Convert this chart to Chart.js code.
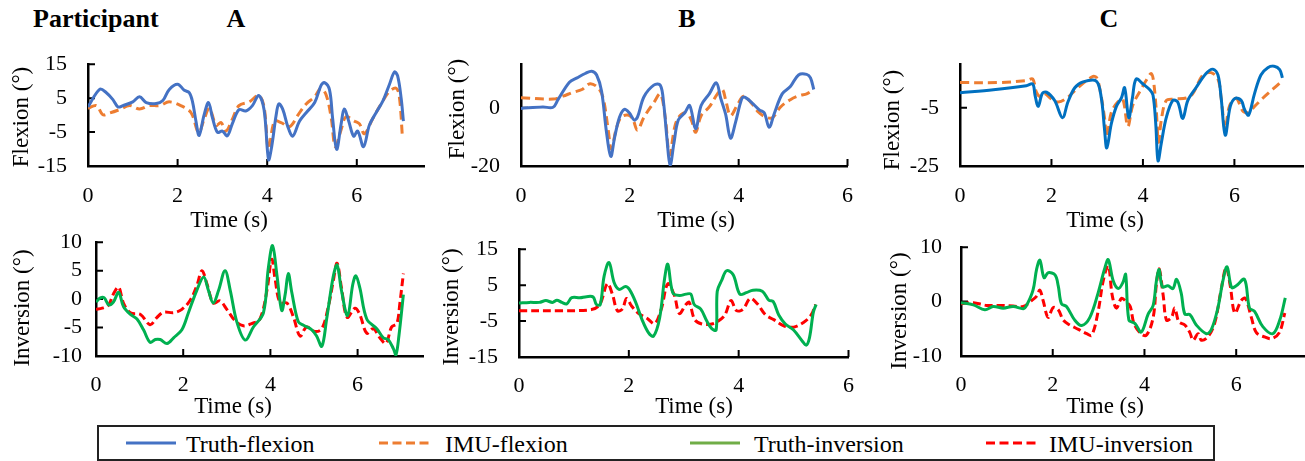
<!DOCTYPE html>
<html><head><meta charset="utf-8">
<script src="https://cdn.jsdelivr.net/npm/chart.js@4.4.1/dist/chart.umd.min.js"></script>
<style>
html,body{margin:0;padding:0;background:#fff;}
body{width:1305px;height:461px;position:relative;overflow:hidden;font-family:'Liberation Serif','Times New Roman',serif;color:#000;}
canvas{position:absolute;}
.t{position:absolute;white-space:nowrap;line-height:1;}
.c{transform:translate(-50%,-50%);}
.v{transform:translate(-50%,-50%) rotate(-90deg);}
.h{font-weight:bold;font-size:26px;transform:translateY(-50%);}
.hc{font-weight:bold;font-size:26px;transform:translate(-50%,-50%);}
.ax{font-size:23px;}
#legend{position:absolute;left:97px;top:425px;width:1118px;height:36px;border:2px solid #222;box-sizing:border-box;}
.lg{position:absolute;font-size:24px;line-height:1;transform:translateY(-50%);white-space:nowrap;}
svg{position:absolute;}
</style></head>
<body>
<div class="t h" style="left:33px;top:19px;">Participant</div>
<div class="t hc" style="left:236px;top:19px;">A</div>
<div class="t hc" style="left:687px;top:19px;">B</div>
<div class="t hc" style="left:1109px;top:19px;">C</div>

<div id="legend"></div>
<svg style="left:126px;top:440px" width="50" height="6"><line x1="0" y1="3" x2="50" y2="3" stroke="#4472C4" stroke-width="3"/></svg>
<div class="lg" style="left:186px;top:444px;">Truth-flexion</div>
<svg style="left:379px;top:440px" width="50" height="6"><line x1="0" y1="3" x2="50" y2="3" stroke="#ED7D31" stroke-width="3" stroke-dasharray="9 4.5"/></svg>
<div class="lg" style="left:445px;top:444px;">IMU-flexion</div>
<svg style="left:690px;top:440px" width="50" height="6"><line x1="0" y1="3" x2="50" y2="3" stroke="#70AD47" stroke-width="3"/></svg>
<div class="lg" style="left:754px;top:444px;">Truth-inversion</div>
<svg style="left:986px;top:440px" width="50" height="6"><line x1="0" y1="3" x2="50" y2="3" stroke="#FF0000" stroke-width="3" stroke-dasharray="9 4.5"/></svg>
<div class="lg" style="left:1049px;top:444px;">IMU-inversion</div>

<script>
// ---------- DATA (time s, angle °) ----------
const xTicks = [0, 2, 4, 6];
const flexTicksA = [-15, -5, 5, 15];
const flexTicksB = [-20, 0];
const flexTicksC = [-25, -5];
const invTicksA = [-10, -5, 0, 5, 10];
const invTicksB = [-15, -5, 5, 15];
const invTicksC = [-10, 0, 10];

const truthFlexA = [[0,2.4],[0.26,7.6],[0.41,6.6],[0.56,4.5],[0.67,2.4],[0.78,2.8],[1.0,3.9],[1.15,5.4],[1.3,3.7],[1.52,3.4],[1.67,4.3],[1.81,7.5],[2.0,9.1],[2.15,7.3],[2.26,6.6],[2.33,4.1],[2.41,-1.8],[2.48,-6],[2.59,0],[2.69,3.7],[2.78,-0.9],[2.89,-5.1],[3.0,-4.7],[3.11,-6.1],[3.22,-2.6],[3.37,1.6],[3.52,1.2],[3.67,2.8],[3.81,5.8],[3.93,1.6],[4.03,-13.1],[4.1,-9.3],[4.2,0],[4.26,3.3],[4.35,1.6],[4.46,-3.4],[4.57,-6.2],[4.72,-1.8],[4.87,0.7],[5.06,3.7],[5.2,8.7],[5.28,9.6],[5.39,7.5],[5.46,-0.9],[5.55,-10.1],[5.65,-2.6],[5.72,1.8],[5.82,-1.8],[5.93,-6.2],[6.02,-4.7],[6.15,-9.3],[6.28,-3],[6.43,0.7],[6.58,4.1],[6.73,9.1],[6.84,12.7],[6.91,11.6],[6.99,5],[7.04,-1.8]];
const imuFlexA = [[0,2],[0.19,2.8],[0.33,0.1],[0.48,0.6],[0.7,1.6],[0.93,2.8],[1.15,1.8],[1.37,2.8],[1.6,2.8],[1.81,3.9],[2.07,2.8],[2.3,0.7],[2.47,-5.1],[2.6,-0.9],[2.71,2],[2.86,-3],[2.97,-2.2],[3.08,-4.7],[3.22,-1.3],[3.37,2.8],[3.6,3.9],[3.81,5.8],[3.93,2.4],[4.03,-10.1],[4.16,-1.8],[4.31,-2.2],[4.5,-3.4],[4.69,0.1],[4.87,3.3],[5.06,5.4],[5.2,7.9],[5.32,5.8],[5.43,-0.9],[5.52,-9.3],[5.65,-4.3],[5.76,-0.5],[5.95,-1.8],[6.06,-2.6],[6.17,-5.5],[6.36,-0.9],[6.58,4.1],[6.73,7],[6.88,7.9],[6.95,5.4],[7.02,-6.8]];

const truthFlexB = [[0,-0.2],[0.4,0.3],[0.59,0.2],[0.68,2.8],[0.89,8.8],[1.03,10.3],[1.18,11.8],[1.3,12.6],[1.39,11.3],[1.48,5.8],[1.57,-8.2],[1.65,-16.7],[1.72,-10.2],[1.81,-3.2],[1.9,-0.5],[1.99,-1.7],[2.08,-4.2],[2.14,-3.2],[2.26,3.8],[2.44,7.8],[2.56,7.8],[2.62,1.8],[2.68,-10.2],[2.74,-19.7],[2.81,-12.2],[2.89,-4.2],[3.01,-1.7],[3.1,0.8],[3.21,-7.2],[3.31,0.8],[3.46,4.8],[3.59,8.6],[3.67,3.3],[3.76,-2.2],[3.85,-10.4],[3.94,-5.2],[4.06,3.3],[4.12,3.6],[4.27,1.3],[4.38,-0.7],[4.47,-1.7],[4.56,-6.7],[4.65,-2.2],[4.8,4.8],[4.95,7.3],[5.1,11.3],[5.25,11.5],[5.32,10.3],[5.38,6.3]];
const imuFlexB = [[0,3.5],[0.59,3],[0.77,4],[0.95,5.3],[1.12,6.3],[1.27,8.3],[1.42,6.8],[1.51,3.3],[1.6,-7.2],[1.66,-14.2],[1.75,-7.2],[1.84,-3.2],[1.96,-2.5],[2.05,-3.7],[2.14,-7.7],[2.26,-3.2],[2.44,1.8],[2.56,4.8],[2.65,-3.2],[2.73,-16.2],[2.83,-6.2],[2.92,-2.7],[3.04,-1.7],[3.13,-4.2],[3.21,-8.4],[3.31,-2.7],[3.46,0.3],[3.61,4.8],[3.7,6.3],[3.76,2.8],[3.85,-2.7],[3.97,0.8],[4.09,4],[4.24,1.5],[4.35,-1.2],[4.5,-3.2],[4.62,-3.4],[4.77,0.3],[4.95,2.8],[5.13,4.3],[5.25,4.8],[5.38,6.3]];

const truthFlexC = [[0,0.2],[0.73,1.2],[1.45,2.6],[1.59,3.2],[1.64,-0.6],[1.71,-4.5],[1.8,-0.1],[1.89,0.4],[2.07,-2.5],[2.24,-8.4],[2.36,-3],[2.51,1.9],[2.69,3.9],[2.98,4.2],[3.09,-1.6],[3.16,-12.4],[3.21,-18.8],[3.31,-10.4],[3.42,-4.5],[3.53,-1.6],[3.6,1.9],[3.69,-8.4],[3.77,-1.6],[3.85,4.9],[4.0,3.2],[4.15,1.2],[4.22,-0.6],[4.28,-10.4],[4.33,-23.2],[4.4,-17.3],[4.51,-8.4],[4.65,-2.5],[4.76,-3],[4.87,-8.7],[4.98,-2.5],[5.16,1.9],[5.38,6.8],[5.53,8.3],[5.64,6.3],[5.71,-1.6],[5.8,-14.4],[5.91,-4.5],[6.02,-1.7],[6.15,-2.5],[6.22,-5.5],[6.31,-7.5],[6.44,-0.1],[6.58,6.3],[6.73,8.8],[6.87,9.3],[6.99,8.1],[7.05,5.3]];
const imuFlexC = [[0,3.7],[0.87,3.7],[1.45,4.4],[1.59,4.9],[1.67,0.4],[1.75,-1.1],[1.85,-0.1],[2.0,-2],[2.15,-3],[2.33,-1.7],[2.51,0.9],[2.69,3.4],[2.91,5.8],[2.99,5.3],[3.07,0.4],[3.16,-8.4],[3.21,-14.9],[3.31,-6.5],[3.45,-3],[3.56,-2],[3.67,-11.4],[3.78,-4],[3.96,1.4],[4.07,4.4],[4.18,6.8],[4.23,4.4],[4.29,-5.5],[4.34,-16.8],[4.4,-9.4],[4.51,-2.5],[4.69,-2],[4.95,-1.6],[5.09,-0.1],[5.31,6.3],[5.49,7.1],[5.64,4.9],[5.71,-1.6],[5.8,-12.4],[5.89,-4.5],[6.04,-1.7],[6.18,-6],[6.29,-6.7],[6.44,-4.5],[6.62,-1.7],[6.84,1.4],[7.02,3.9]];

const truthInvA = [[0,-0.5],[0.1,0.2],[0.19,0.2],[0.29,-1],[0.4,-0.5],[0.52,1.2],[0.63,-1.3],[0.79,-2.7],[0.94,-3.5],[1.09,-5.4],[1.24,-7.6],[1.36,-7.1],[1.47,-7.1],[1.63,-7.8],[1.78,-6.8],[1.97,-5.4],[2.12,-2.4],[2.31,1.5],[2.47,3.9],[2.58,1.5],[2.69,-0.7],[2.81,1.5],[2.96,5],[3.08,1.5],[3.23,-4],[3.42,-7.2],[3.61,-4.9],[3.84,-2.4],[3.95,5.3],[4.05,9.4],[4.15,4.2],[4.26,-2],[4.34,0.9],[4.41,4.5],[4.49,1.2],[4.64,-4],[4.76,-4.6],[4.95,-5.4],[5.06,-6.5],[5.18,-8.3],[5.29,-3.5],[5.44,3.9],[5.53,6],[5.63,1.5],[5.77,-2.9],[5.89,2.6],[5.96,4.1],[6.05,2],[6.21,-3.5],[6.44,-5.2],[6.59,-6.8],[6.7,-7.1],[6.82,-8.7],[6.88,-9.8],[6.95,-6.3],[7.05,0.8]];
const imuInvA = [[0,-1.8],[0.14,-1.6],[0.29,-1],[0.4,0.9],[0.52,2.1],[0.63,-0.7],[0.79,-2.4],[1.02,-2.7],[1.24,-4.5],[1.4,-3.2],[1.55,-2.3],[1.78,-2.4],[1.97,-1.8],[2.16,-0.2],[2.31,2.3],[2.43,5],[2.54,2.8],[2.69,-0.7],[2.84,-0.3],[3.0,-1.8],[3.19,-3.8],[3.38,-4.7],[3.57,-4.3],[3.76,-3.5],[3.92,1.5],[4.03,7],[4.11,3.4],[4.22,-0.6],[4.38,-0.7],[4.53,-3.2],[4.68,-6.5],[4.83,-4.9],[5.02,-5.7],[5.18,-5.2],[5.33,-1.3],[5.44,3.1],[5.53,6.3],[5.63,2],[5.76,-3.2],[5.94,-1.6],[6.05,-2.7],[6.21,-6],[6.36,-5.2],[6.51,-6.8],[6.65,-7.8],[6.78,-4.9],[6.9,-4.3],[6.97,-0.7],[7.05,4.5]];

const truthInvB = [[0,0],[0.19,0.2],[0.37,0.2],[0.49,0.7],[0.61,0.2],[0.69,0.8],[0.78,0.2],[0.87,-0.2],[0.96,1.5],[1.11,1.5],[1.23,1.8],[1.35,1.7],[1.41,-0.4],[1.48,-0.4],[1.55,7.5],[1.64,11.3],[1.73,5.8],[1.82,3.8],[1.94,4.6],[2.01,3.8],[2.12,0.4],[2.24,-4.6],[2.36,-8.3],[2.45,-9.2],[2.56,-4.2],[2.65,6.7],[2.71,10.8],[2.8,2.9],[2.92,2.1],[3.04,2.5],[3.13,2.5],[3.19,-0.4],[3.31,-1.7],[3.42,-5],[3.51,-7.1],[3.59,-7.5],[3.61,3.3],[3.69,6.3],[3.78,9],[3.9,7.9],[4.02,2.5],[4.14,2.9],[4.26,3.6],[4.43,3.3],[4.55,0.8],[4.63,0.4],[4.73,-3.3],[4.85,-5.8],[5.0,-7.5],[5.15,-10.4],[5.23,-11.7],[5.29,-9.6],[5.36,-2.5],[5.41,-0.4]];
const imuInvB = [[0,-2.1],[0.78,-2.1],[1.32,-1.8],[1.47,-0.4],[1.61,5.4],[1.7,2.5],[1.79,-2.1],[1.88,-1.7],[1.96,1.3],[2.05,-0.8],[2.18,-2.9],[2.33,-4.2],[2.47,-5.7],[2.59,-1.7],[2.71,5.4],[2.83,2.1],[2.92,-2.9],[3.04,-0.4],[3.1,0.2],[3.2,-4.6],[3.33,-5.8],[3.51,-5.8],[3.63,-5],[3.75,-3.3],[3.86,0.7],[3.96,-2.1],[4.08,-1.7],[4.21,1.3],[4.34,-0.2],[4.49,-3.3],[4.64,-4.6],[4.82,-6.3],[5.0,-6.7],[5.18,-5.4],[5.32,-3.3],[5.4,-0.4]];

const truthInvC = [[0,-0.2],[0.27,-0.6],[0.52,-1.5],[0.7,-0.9],[0.92,-1.2],[1.14,-0.9],[1.36,-1.3],[1.43,-0.7],[1.57,2.1],[1.65,6],[1.72,7.6],[1.81,4.4],[1.9,5.3],[2.05,4.9],[2.12,2.9],[2.19,-0.4],[2.3,-0.9],[2.48,-3.4],[2.63,-4.4],[2.81,-2.9],[2.99,1.6],[3.13,6],[3.21,7.7],[3.32,3.8],[3.43,2.4],[3.53,3.5],[3.59,5],[3.66,-3.4],[3.79,-4],[3.93,-5.6],[4.08,-2.3],[4.19,-0.7],[4.26,3.8],[4.32,5.9],[4.39,2.7],[4.51,2.9],[4.62,2.4],[4.7,4.1],[4.8,1.6],[4.88,-2.3],[4.99,-2.4],[5.13,-4.3],[5.35,-5.9],[5.46,-5.1],[5.6,-1.2],[5.71,3.8],[5.8,6.4],[5.9,2.6],[6.0,2.9],[6.18,4.1],[6.29,-1.2],[6.4,-1.8],[6.58,-4.6],[6.8,-5.9],[6.95,-3.4],[7.07,0.7]];
const imuInvC = [[0,-0.4],[0.27,-0.2],[0.56,-0.7],[0.85,-0.7],[1.14,-0.8],[1.36,-0.9],[1.54,0.2],[1.65,1],[1.72,2.1],[1.79,0.2],[1.9,-2.9],[2.01,-1.1],[2.12,-1.5],[2.23,-3.4],[2.37,-4.3],[2.56,-5.1],[2.74,-5.9],[2.85,-6.2],[2.99,-1.8],[3.1,3.8],[3.21,6.6],[3.3,1],[3.39,-1.2],[3.5,0.6],[3.61,-0.1],[3.69,-0.9],[3.77,-4],[3.9,-5.7],[4.04,-6.2],[4.19,-2.9],[4.26,3.2],[4.32,6],[4.41,1],[4.48,-3.4],[4.59,-2.9],[4.66,-1.2],[4.75,-3.7],[4.88,-4.3],[4.99,-5.7],[5.06,-7.1],[5.17,-5.9],[5.24,-7.1],[5.38,-6.5],[5.53,-4],[5.67,2.1],[5.78,6.3],[5.87,2.9],[5.97,-2.1],[6.11,0.2],[6.2,0.6],[6.33,-2.9],[6.44,-5.7],[6.62,-6.5],[6.77,-6.8],[6.94,-5.7],[7.06,-2.1]];

// ---------- STYLE ----------
const COL = {blue:'#4472C4', blueC:'#0070C0', orange:'#ED7D31', green:'#00B050', red:'#FF0000'};
Chart.defaults.font.family = "'Liberation Serif','Times New Roman',serif";
Chart.defaults.font.size = 22;
Chart.defaults.color = '#000';

const insideTicks = {
  id: 'insideTicks',
  beforeDatasetsDraw(chart) {
    const {ctx, chartArea: a, scales: {x, y}} = chart;
    ctx.save(); ctx.strokeStyle = '#000'; ctx.lineWidth = 2; ctx.beginPath();
    x.ticks.forEach(t => { const p = x.getPixelForValue(t.value); ctx.moveTo(p, a.bottom); ctx.lineTo(p, a.bottom - 7); });
    y.ticks.forEach(t => { const p = y.getPixelForValue(t.value); ctx.moveTo(a.left, p); ctx.lineTo(a.left + 7, p); });
    ctx.stroke(); ctx.restore();
  }
};

function makeChart(p) {
  const c = document.createElement('canvas');
  c.width = p.width; c.height = p.height;
  Object.assign(c.style, {left: p.left+'px', top: p.top+'px', width: p.width+'px', height: p.height+'px'});
  document.body.appendChild(c);
  const [L, T, R, B] = p.area;
  new Chart(c, {
    type: 'line',
    data: { datasets: p.series.map(s => ({
      label: s.label, data: s.data.map(([x, y]) => ({x, y})),
      borderColor: s.color, borderWidth: 3, borderDash: s.dash || [],
      pointRadius: 0, tension: 0.35, fill: false
    })) },
    options: {
      responsive: false, animation: false, devicePixelRatio: 1,
      layout: { padding: { left: 0, top: T - p.top, right: p.left + p.width - R, bottom: 0 } },
      plugins: { legend: {display: false}, tooltip: {enabled: false} },
      scales: {
        x: { type: 'linear', min: 0, max: p.xMax,
             grid: {display: false, drawTicks: false},
             border: {display: true, color: '#000', width: 2.5},
             ticks: {padding: p.xPad, maxRotation: 0, autoSkip: false},
             afterBuildTicks: s => { s.ticks = xTicks.map(v => ({value: v})); },
             afterFit: s => { s.height = p.top + p.height - B; } },
        y: { type: 'linear', min: p.yMin, max: p.yMax,
             grid: {display: false, drawTicks: false},
             border: {display: true, color: '#000', width: 2.5},
             ticks: {padding: p.yPad, autoSkip: false},
             afterBuildTicks: s => { s.ticks = p.yTicks.map(v => ({value: v})); },
             afterFit: s => { s.width = L - p.left; } }
      }
    },
    plugins: [insideTicks]
  });
}

const flexSeries = (t, i, blue) => [
  {label: 'Truth-flexion', data: t, color: blue},
  {label: 'IMU-flexion', data: i, color: COL.orange, dash: [9, 5]}
];
const invSeries = (t, i) => [
  {label: 'Truth-inversion', data: t, color: COL.green},
  {label: 'IMU-inversion', data: i, color: COL.red, dash: [8, 4]}
];

makeChart({left: 0, top: 30, width: 430, height: 200, area: [88, 47, 424, 166], xMax: 7.5, xPad: 17,
  yMin: -15, yMax: 15, yTicks: flexTicksA, yPad: 21, series: flexSeries(truthFlexA, imuFlexA, COL.blue)});
makeChart({left: 430, top: 30, width: 440, height: 200, area: [521, 48, 855, 166], xMax: 6, xPad: 17,
  yMin: -20, yMax: 15, yTicks: flexTicksB, yPad: 21, series: flexSeries(truthFlexB, imuFlexB, COL.blue)});
makeChart({left: 860, top: 30, width: 445, height: 200, area: [960, 48, 1303, 166], xMax: 7.5, xPad: 17,
  yMin: -25, yMax: 10, yTicks: flexTicksC, yPad: 21, series: flexSeries(truthFlexC, imuFlexC, COL.blueC)});
makeChart({left: 0, top: 215, width: 430, height: 215, area: [96, 235, 423, 356], xMax: 7.5, xPad: 16,
  yMin: -10, yMax: 10, yTicks: invTicksA, yPad: 14, series: invSeries(truthInvA, imuInvA)});
makeChart({left: 430, top: 215, width: 440, height: 215, area: [519, 237, 857, 357], xMax: 6, xPad: 16,
  yMin: -15, yMax: 15, yTicks: invTicksB, yPad: 21, series: invSeries(truthInvB, imuInvB)});
makeChart({left: 860, top: 215, width: 445, height: 215, area: [961, 236, 1305, 356], xMax: 7.5, xPad: 16,
  yMin: -10, yMax: 10, yTicks: invTicksC, yPad: 19, series: invSeries(truthInvC, imuInvC)});

// axis titles (real text)
const titles = [
  ['Time (s)', 229, 219, 'c'], ['Time (s)', 696, 219, 'c'], ['Time (s)', 1105, 219, 'c'],
  ['Time (s)', 233, 405, 'c'], ['Time (s)', 694, 405, 'c'], ['Time (s)', 1105, 405, 'c'],
  ['Flexion (°)', 20, 117, 'v'], ['Flexion (°)', 456, 109, 'v'], ['Flexion (°)', 891, 120, 'v'],
  ['Inversion (°)', 21, 308, 'v'], ['Inversion (°)', 450, 307, 'v'], ['Inversion (°)', 898, 311, 'v']
];
titles.forEach(([txt, x, y, k]) => {
  const d = document.createElement('div');
  d.className = 't ax ' + k; d.textContent = txt;
  d.style.left = x + 'px'; d.style.top = y + 'px';
  document.body.appendChild(d);
});
</script>
</body></html>
